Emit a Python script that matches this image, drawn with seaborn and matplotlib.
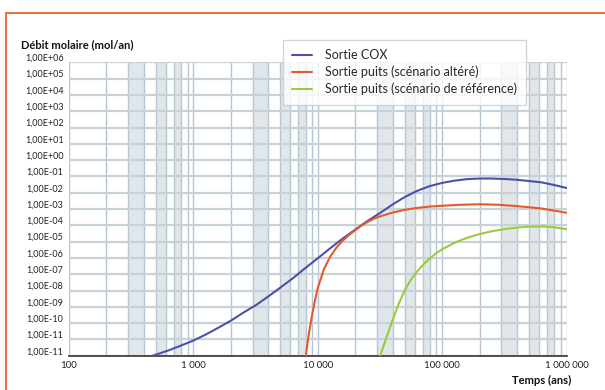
import numpy as np
import pandas as pd
import matplotlib
matplotlib.use("Agg")
import matplotlib.pyplot as plt
import matplotlib.transforms as mtransforms
from matplotlib.lines import Line2D
from matplotlib.ticker import LogLocator, NullFormatter, FixedLocator
import seaborn as sns

# ---- data (temps en années, débit molaire en mol/an) ----
cox_t = [470, 630, 790, 1000, 1260, 1580, 2000, 2500, 3200, 4000, 5000, 6300,
         7900, 10000, 12600, 15800, 20000, 25000, 32000, 40000, 50000, 63000,
         79000, 100000, 126000, 158000, 200000, 250000, 320000, 400000,
         500000, 630000, 790000, 1000000]
cox_v = [1.0e-12, 2.1e-12, 4.1e-12, 8.5e-12, 2.0e-11, 5.1e-11, 1.4e-10,
         4.2e-10, 1.3e-9, 4.3e-9, 1.5e-8, 5.6e-8, 2.3e-7, 9.5e-7, 3.9e-6,
         1.5e-5, 5.4e-5, 1.8e-4, 6.0e-4, 1.9e-3, 5.4e-3, 1.3e-2, 2.5e-2,
         4.0e-2, 5.5e-2, 6.8e-2, 7.4e-2, 7.4e-2, 6.9e-2, 6.2e-2, 5.2e-2,
         4.3e-2, 3.0e-2, 1.95e-2]

alt_t = [8020, 8410, 8910, 9440, 10000, 11200, 12600, 14100, 15800, 17800,
         20000, 22400, 25100, 28200, 31600, 39800, 50100, 63100, 79400,
         100000, 141000, 200000, 282000, 398000, 631000, 1000000]
alt_v = [1.0e-12, 1.4e-11, 2.0e-10, 2.0e-9, 1.4e-8, 2.0e-7, 1.2e-6, 4.2e-6,
         1.1e-5, 2.5e-5, 5.0e-5, 9.3e-5, 1.6e-4, 2.5e-4, 3.5e-4, 6.0e-4,
         8.9e-4, 1.17e-3, 1.41e-3, 1.58e-3, 1.82e-3, 1.95e-3, 1.82e-3,
         1.51e-3, 1.07e-3, 5.9e-4]

ref_t = [31800, 35500, 39800, 44700, 50100, 56200, 63100, 70800, 79400,
         89100, 100000, 126000, 158000, 200000, 251000, 316000, 398000,
         501000, 631000, 794000, 1000000]
ref_v = [1.0e-12, 1.2e-11, 1.4e-10, 1.5e-9, 1.05e-8, 4.7e-8, 1.5e-7, 4.0e-7,
         9.1e-7, 1.9e-6, 3.4e-6, 8.5e-6, 1.7e-5, 2.9e-5, 4.3e-5, 5.8e-5,
         7.2e-5, 8.3e-5, 8.5e-5, 7.6e-5, 5.9e-5]

series_names = ["Sortie COX", "Sortie puits (scénario altéré)",
                "Sortie puits (scénario de référence)"]
series_colors = ["#4f4fa8", "#e35b2c", "#9bcb3b"]

y_ticks = [10.0 ** e for e in range(6, -13, -1)]
y_tick_labels = ["1,00E+06", "1,00E+05", "1,00E+04", "1,00E+03", "1,00E+02",
                 "1,00E+01", "1,00E+00", "1,00E-01", "1,00E-02", "1,00E-03",
                 "1,00E-04", "1,00E-05", "1,00E-06", "1,00E-07", "1,00E-08",
                 "1,00E-09", "1,00E-10", "1,00E-11", "1,00E-11"]
x_ticks = [100, 1000, 10000, 100000, 1000000]
x_tick_labels = ["100", "1 000", "10 000", "100 000", "1 000 000"]

df = pd.concat([
    pd.DataFrame({"t": cox_t, "v": cox_v, "serie": series_names[0]}),
    pd.DataFrame({"t": alt_t, "v": alt_v, "serie": series_names[1]}),
    pd.DataFrame({"t": ref_t, "v": ref_v, "serie": series_names[2]}),
], ignore_index=True)

sns.set_style("white")
plt.rcParams["font.family"] = ["Lato", "DejaVu Sans"]

fig = plt.figure(figsize=(6.05, 3.9), dpi=100)
L, R, T, B = 69, 566.5, 62.3, 355.7
ax = fig.add_axes([L / 605, 1 - B / 390, (R - L) / 605, (B - T) / 390])
ax.set_xscale("log")
ax.set_yscale("log")

# shaded bands between minor grid lines
for dec in [100, 1000, 10000, 100000]:
    for a, b in [(3, 4), (5, 6), (7, 8)]:
        ax.axvspan(a * dec, b * dec, color="#e1e6ea", lw=0, zorder=0)

sns.lineplot(data=df, x="t", y="v", hue="serie", palette=series_colors,
             hue_order=series_names, estimator=None, sort=False,
             linewidth=1.5, ax=ax, legend=False, zorder=3)

ax.set_xlim(100, 1e6)
ax.set_ylim(1e-12, 1e6)

ax.xaxis.set_major_locator(FixedLocator(x_ticks))
ax.set_xticklabels(x_tick_labels)
ax.xaxis.set_minor_locator(LogLocator(base=10, subs=np.arange(2, 10)))
ax.xaxis.set_minor_formatter(NullFormatter())
ax.yaxis.set_major_locator(FixedLocator(y_ticks))
ax.set_yticklabels(y_tick_labels)
ax.yaxis.set_minor_locator(FixedLocator([]))

ax.grid(True, which="both", axis="x", color="#b7c6d1", lw=1.0, zorder=1)
ax.grid(True, which="major", axis="y", color="#c6d2da", lw=1.6, zorder=1)
ax.set_axisbelow(True)

ax.tick_params(axis="x", which="major", direction="in", length=3, width=1.2,
               color="#333333", labelsize=7, pad=4, labelcolor="#222222")
ax.tick_params(axis="x", which="minor", length=0)
ax.tick_params(axis="y", which="both", length=0, labelsize=6.5, pad=4,
               labelcolor="#222222")

offset = mtransforms.ScaledTranslation(0, 5 / 100, fig.dpi_scale_trans)
for lab in ax.get_yticklabels():
    lab.set_transform(lab.get_transform() + offset)

for s in ["left", "right", "top"]:
    ax.spines[s].set_visible(False)
ax.spines["bottom"].set_color("#333333")
ax.spines["bottom"].set_linewidth(1.2)
ax.set_xlabel("")
ax.set_ylabel("")

handles = [Line2D([], [], color=c, lw=1.5) for c in series_colors]
leg = ax.legend(handles, series_names, loc="upper left",
                bbox_to_anchor=(283 / 605, 1 - 40 / 390),
                bbox_transform=fig.transFigure, frameon=True, fancybox=False,
                edgecolor="#c3ccd4", fontsize=9, handlelength=1.6,
                handletextpad=1.0, labelspacing=0.35, borderpad=0.75,
                borderaxespad=0)
leg.get_frame().set_linewidth(1.0)
leg.set_zorder(5)

fig.text(21 / 605, 1 - 45 / 390, "Débit molaire (mol/an)", fontweight="bold",
         fontsize=8, ha="left", va="center", color="#111111")
fig.text(571 / 605, 1 - 380 / 390, "Temps (ans)", fontweight="bold",
         fontsize=8, ha="right", va="center", color="#111111")

frame_c = "#e8632f"
fig.add_artist(Line2D([6 / 605, 1], [1 - 12.5 / 390] * 2,
                      transform=fig.transFigure, color=frame_c, lw=1.3))
fig.add_artist(Line2D([6 / 605] * 2, [0, 1 - 12.5 / 390],
                      transform=fig.transFigure, color=frame_c, lw=1.3))

fig.savefig("out.png", dpi=100)
